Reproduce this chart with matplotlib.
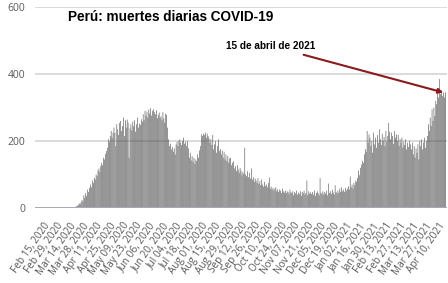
import matplotlib
matplotlib.use("Agg")
import matplotlib.pyplot as plt
import pandas as pd

start_date = "2020-03-19"
deaths = [
    2, 4, 5, 7, 9, 14, 12,
    18, 24, 20, 38, 30, 45, 36,
    55, 48, 60, 70, 62, 82, 75,
    90, 85, 100, 95, 112, 118, 108,
    125, 135, 128, 150, 145, 162, 170,
    180, 205, 198, 215, 230, 210, 225,
    240, 224, 185, 250, 235, 218, 254,
    260, 230, 245, 270, 215, 262, 240,
    264, 255, 150, 238, 250, 232, 258,
    244, 262, 228, 250, 270, 240, 252,
    248, 265, 258, 280, 262, 290, 275,
    288, 270, 294, 282, 298, 276, 290,
    295, 286, 280, 292, 268, 278, 285,
    270, 274, 262, 286, 268, 255, 282,
    278, 240, 205, 185, 192, 175, 182,
    168, 178, 160, 190, 198, 185, 200,
    205, 195, 188, 200, 210, 192, 198,
    185, 200, 178, 150, 165, 142, 155,
    138, 150, 132, 145, 140, 160, 150,
    172, 185, 220, 215, 222, 218, 225,
    210, 222, 215, 209, 195, 205, 188,
    218, 175, 190, 200, 165, 185, 205,
    170, 176, 160, 172, 150, 168, 145,
    160, 140, 155, 135, 148, 150, 128,
    135, 140, 118, 125, 110, 128, 115,
    105, 120, 112, 98, 108, 103, 180,
    100, 95, 110, 92, 105, 88, 118,
    85, 92, 78, 88, 82, 75, 90,
    72, 80, 68, 85, 70, 64, 78,
    66, 70, 62, 75, 91, 58, 64,
    55, 60, 52, 58, 62, 50, 56,
    48, 55, 52, 45, 58, 50, 46,
    52, 44, 50, 48, 42, 55, 47,
    45, 50, 38, 48, 44, 52, 40,
    46, 42, 50, 36, 48, 44, 52,
    40, 45, 82, 38, 50, 43, 47,
    42, 48, 40, 52, 36, 45, 50,
    44, 38, 89, 46, 42, 50, 40,
    48, 43, 52, 38, 73, 45, 50,
    42, 55, 46, 40, 68, 48, 44,
    52, 45, 58, 48, 62, 50, 55,
    48, 60, 52, 58, 65, 55, 94,
    62, 70, 58, 75, 68, 82, 78,
    90, 112, 98, 120, 130, 141, 135,
    160, 176, 168, 230, 195, 220, 210,
    185, 200, 165, 225, 190, 210, 180,
    218, 195, 235, 205, 188, 222, 200,
    212, 185, 230, 198, 215, 254, 228,
    205, 225, 215, 192, 230, 210, 220,
    200, 218, 185, 205, 195, 210, 180,
    198, 188, 205, 175, 195, 182, 200,
    190, 175, 195, 160, 185, 150, 178,
    165, 190, 145, 200, 185, 205, 175,
    195, 210, 180, 200, 215, 250, 230,
    270, 245, 295, 260, 300, 275, 320,
    310, 345, 330, 385, 340, 350, 335,
    345, 330, 345,
]
title = "Perú: muertes diarias COVID-19"
annot_text = "15 de abril de 2021"
annot_date = "2021-04-15"
annot_value = 345
tick_start = "2020-02-15"
tick_end = "2021-04-10"
yticks = [0, 200, 400, 600]

dates = pd.date_range(start_date, periods=len(deaths), freq="D")

fig = plt.figure(figsize=(4.48, 2.83), dpi=100)
ax = fig.add_axes([0.078, 0.265, 0.92, 0.71])

colors = ["#484848"] * (len(deaths) - 1) + ["#262626"]
bars = ax.bar(dates, deaths, width=0.6, color=colors, linewidth=0, zorder=2)
for b in bars:
    b.set_snap(False)

ax.set_ylim(0, 600)
ax.set_yticks(yticks)
ax.set_xlim(pd.Timestamp("2020-02-06"), pd.Timestamp("2021-04-19"))
ticks = pd.date_range(tick_start, tick_end, freq="14D")
ax.set_xticks(ticks)
ax.set_xticklabels([t.strftime("%b %d, %Y") for t in ticks], rotation=55,
                   ha="right", rotation_mode="anchor", fontsize=7.2,
                   color="#595959", family="Open Sans")
for lab in ax.get_yticklabels():
    lab.set_fontsize(7.5)
    lab.set_color("#595959")
    lab.set_family("Open Sans")
ax.tick_params(axis="x", length=0, pad=9)
ax.tick_params(axis="y", length=0, pad=7)

for s in ["top", "right", "left", "bottom"]:
    ax.spines[s].set_visible(False)
ax.grid(axis="y", color="#d4d4d4", linewidth=1.2, zorder=0)
ax.axhline(0, color="#a8a8b8", linewidth=1.4, zorder=3)

fig.text(0.152, 0.94, title, fontsize=9.8, fontweight="bold",
         family="Liberation Sans", ha="left", va="center", color="black")

ax.annotate(annot_text, xy=(pd.Timestamp(annot_date), annot_value),
            xytext=(pd.Timestamp("2020-11-30"), 484),
            fontsize=7.2, fontweight="bold", family="Liberation Sans",
            ha="right", va="center",
            arrowprops=dict(arrowstyle="-|>", color="#8b1a1a", lw=1.5,
                            mutation_scale=7, shrinkA=3, shrinkB=0),
            zorder=5)

fig.savefig("out.png", dpi=100)
